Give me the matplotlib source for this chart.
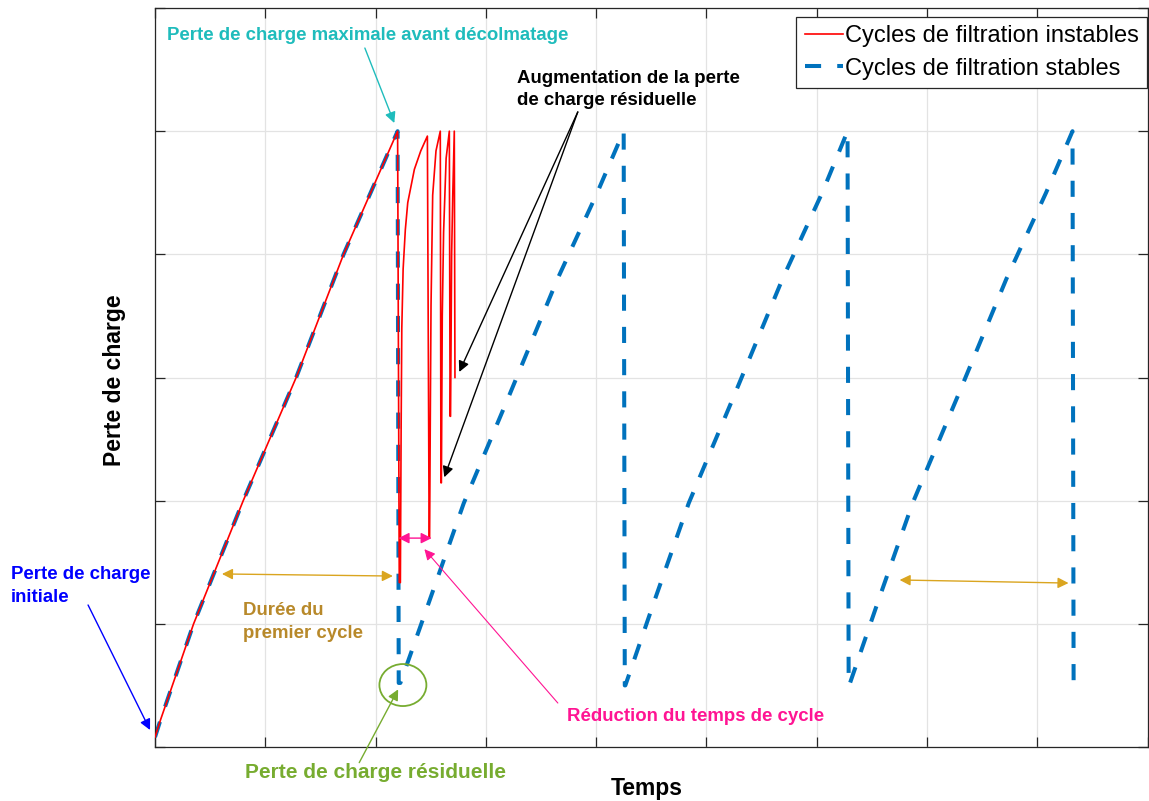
import matplotlib
matplotlib.use("Agg")
import matplotlib.pyplot as plt
from matplotlib.patches import Ellipse

plt.rcParams['font.family'] = ['Liberation Sans', 'DejaVu Sans']

# stable filtration cycles (blue dashed): rise, then drop to residual loss
stable_t = [0.0, 0.05, 0.35, 0.80, 1.28, 1.71, 2.20, 2.21,
            2.225, 2.49, 2.80, 3.21, 3.65, 4.01, 4.25, 4.26,
            4.265, 4.53, 4.84, 5.25, 5.69, 6.05, 6.28, 6.29,
            6.295, 6.56, 6.87, 7.28, 7.72, 8.08, 8.32, 8.33]
stable_p = [0.08, 0.22, 1.00, 2.00, 3.00, 4.00, 5.00, 0.52,
            0.52, 1.19, 1.98, 2.85, 3.80, 4.50, 5.00, 0.50,
            0.50, 1.19, 1.98, 2.85, 3.80, 4.50, 5.00, 0.50,
            0.50, 1.19, 1.98, 2.85, 3.80, 4.50, 5.00, 0.50]

# unstable filtration cycles (red): same first cycle, then shorter and shorter cycles
unstable_t = [0.0, 0.05, 0.35, 0.80, 1.28, 1.71, 2.20, 2.215,
              2.225, 2.232, 2.238, 2.250, 2.270, 2.292, 2.352, 2.41, 2.47, 2.486,
              2.490, 2.498, 2.503, 2.518, 2.548, 2.587, 2.593,
              2.597, 2.605, 2.617, 2.640, 2.669, 2.676,
              2.680, 2.690, 2.700, 2.714, 2.720]
unstable_p = [0.08, 0.22, 1.00, 2.00, 3.00, 4.00, 5.00, 1.335,
              1.335, 2.60, 3.40, 3.88, 4.20, 4.42, 4.69, 4.84, 4.96, 1.70,
              1.70, 2.90, 3.585, 4.48, 4.84, 5.00, 2.145,
              2.145, 3.50, 4.18, 4.78, 5.00, 2.685,
              2.685, 4.00, 4.48, 5.00, 3.00]

fig = plt.figure(figsize=(11.49, 8.01), dpi=100)
ax = fig.add_axes([155 / 1149, 54 / 801, 992.5 / 1149, 739 / 801])

ax.plot(unstable_t, unstable_p, color='#ff0000', lw=1.2, label='Cycles de filtration instables', zorder=3)
ax.plot(stable_t, stable_p, color='#0072bd', lw=2.9, linestyle=(0, (4, 4)),
        label='Cycles de filtration stables', zorder=2)

ax.set_xlim(0, 9)
ax.set_ylim(0, 6)
ax.set_xticks(range(0, 10))
ax.set_yticks(range(0, 7))
ax.set_xticklabels([])
ax.set_yticklabels([])
ax.tick_params(direction='in', length=7, width=0.9, top=True, right=True, color='#262626')
ax.grid(True, color='#e3e3e3', lw=0.9)
ax.set_axisbelow(True)
for s in ax.spines.values():
    s.set_color('#262626')
    s.set_linewidth(0.9)

leg = ax.legend(loc='upper right', bbox_to_anchor=(0.9995, 0.988), borderaxespad=0,
                fontsize=17, handlelength=1.6, handletextpad=0.1, borderpad=0.35,
                labelspacing=0.45, fancybox=False, framealpha=1, edgecolor='#262626')
leg.get_frame().set_linewidth(0.9)

fs = 13.4

def arrow(head, tail, color, style='-|>', lw=1.0):
    ax.annotate('', xy=head, xytext=tail, annotation_clip=False,
                arrowprops=dict(arrowstyle=style, color=color, lw=lw, shrinkA=0, shrinkB=0,
                                mutation_scale=16))

# maximum head loss
ax.text(0.109, 5.773, 'Perte de charge maximale avant décolmatage', color='#1fbcbc',
        fontsize=fs, fontweight='bold', va='center', ha='left')
arrow((2.17, 5.066), (1.903, 5.675), '#1fbcbc')

# residual loss increase
ax.text(3.281, 5.338, 'Augmentation de la perte\nde charge résiduelle', color='black',
        fontsize=fs, fontweight='bold', va='center', ha='left', linespacing=1.45)
arrow((2.759, 3.045), (3.834, 5.156), 'black')
arrow((2.623, 2.19), (3.834, 5.156), 'black')

# initial head loss
ax.text(-1.305, 1.307, 'Perte de charge\ninitiale', color='#0000ff',
        fontsize=fs, fontweight='bold', va='center', ha='left', linespacing=1.45)
arrow((-0.045, 0.138), (-0.607, 1.153), '#0000ff')

# first cycle duration
ax.text(0.798, 1.015, 'Durée du\npremier cycle', color='#b8892a',
        fontsize=fs, fontweight='bold', va='center', ha='left', linespacing=1.45)
arrow((2.157, 1.388), (0.607, 1.405), '#daa520', style='<|-|>')
arrow((8.284, 1.331), (6.752, 1.356), '#daa520', style='<|-|>')

# cycle time reduction
ax.text(3.734, 0.244, 'Réduction du temps de cycle', color='#ff1493',
        fontsize=fs, fontweight='bold', va='center', ha='left')
arrow((2.443, 1.606), (3.653, 0.357), '#ff1493', lw=0.8)
arrow((2.509, 1.696), (2.208, 1.696), '#ff1493', style='<|-|>')

# residual head loss
ax.add_patch(Ellipse((2.248, 0.503), 0.426, 0.341, fill=False, edgecolor='#77ac30', lw=1.3, zorder=4))
ax.text(0.816, -0.211, 'Perte de charge résiduelle', color='#77ac30',
        fontsize=15, fontweight='bold', va='center', ha='left', clip_on=False)
arrow((2.205, 0.468), (1.852, -0.127), '#77ac30')

fig.text(647 / 1149, 1 - 788 / 801, 'Temps', fontsize=16.5, fontweight='bold', ha='center', va='center')
fig.text(115 / 1149, 1 - 380 / 801, 'Perte de charge', fontsize=16.5, fontweight='bold',
         ha='center', va='center', rotation=90)

fig.savefig('out.png', dpi=100)
